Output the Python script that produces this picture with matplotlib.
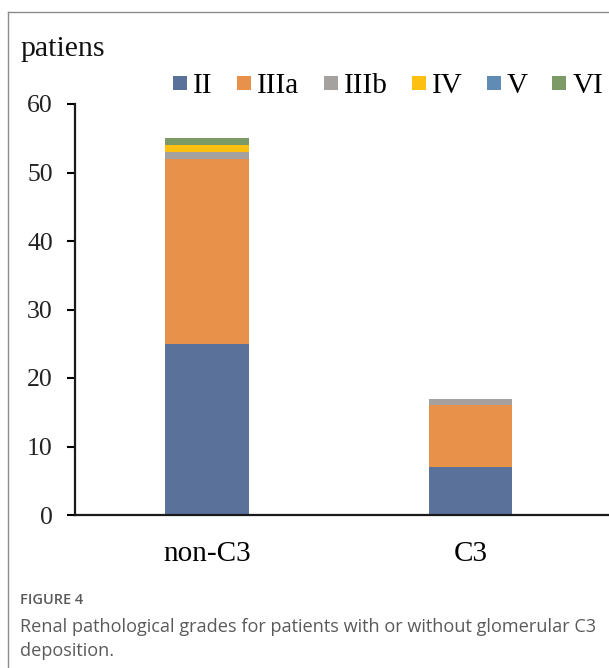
import matplotlib.pyplot as plt
from matplotlib.lines import Line2D

# data
groups = ["non-C3", "C3"]
grades = ["II", "IIIa", "IIIb", "IV", "V", "VI"]
counts = {
    "II": [25, 7],
    "IIIa": [27, 9],
    "IIIb": [1, 1],
    "IV": [1, 0],
    "V": [0, 0],
    "VI": [1, 0],
}
colors = ["#5a7199", "#e8914a", "#a5a19e", "#fdc010", "#5f8bb5", "#7c9a66"]
yticks = [0, 10, 20, 30, 40, 50, 60]

W, H = 609, 668
fig = plt.figure(figsize=(W / 100, H / 100), dpi=100)
serif = "Liberation Serif"

# axes placed in pixel terms of the reference
left, right, top, bottom = 75, 612, 104, 515
ax = fig.add_axes([left / W, 1 - bottom / H, (right - left) / W, (bottom - top) / H])

x = list(range(len(groups)))
base = [0] * len(groups)
handles = []
for g, c in zip(grades, colors):
    vals = counts[g]
    ax.bar(x, vals, width=0.315, bottom=base, color=c, label=g, linewidth=0)
    base = [b + v for b, v in zip(base, vals)]
    handles.append(Line2D([], [], marker="s", linestyle="none", markersize=10,
                          markerfacecolor=c, markeredgewidth=0, label=g))

ax.set_xlim(-0.5, 1.535)
ax.set_ylim(0, 60)
ax.set_yticks(yticks)
ax.set_xticks(x)
ax.set_xticklabels(groups, fontfamily=serif, fontsize=21)
ax.tick_params(axis="x", length=0, pad=19)
ax.tick_params(axis="y", direction="out", length=5.5, width=1.5, pad=10.5)
for lab in ax.get_yticklabels():
    lab.set_fontfamily(serif)
    lab.set_fontsize(18.5)
    lab.set_color("#222222")
for s in ["top", "right"]:
    ax.spines[s].set_visible(False)
for s in ["left", "bottom"]:
    ax.spines[s].set_linewidth(1.6)
    ax.spines[s].set_color("#1a1a1a")

fig.text(20 / W, 1 - 49 / H, "patiens", fontfamily=serif, fontsize=21.5,
         va="center", ha="left", color="#111111")

fig.legend(handles=handles, loc="center left", bbox_to_anchor=(173 / W, 1 - 86 / H),
           ncol=6, frameon=False, prop={"family": serif, "size": 21},
           handletextpad=0.2, columnspacing=0.82, handlelength=0.5,
           borderaxespad=0, borderpad=0)

# card border (top and left edges only visible)
fig.add_artist(Line2D([8 / W, 1], [1 - 12 / H, 1 - 12 / H], color="#8c8c8c", lw=1.0))
fig.add_artist(Line2D([8 / W, 8 / W], [0, 1 - 12 / H], color="#8c8c8c", lw=1.0))

# caption
fig.text(20 / W, 1 - 600 / H, "FIGURE 4", fontfamily="Open Sans", fontsize=10.5,
         fontweight="semibold", color="#5a5a5a", va="center")
fig.text(20 / W, 1 - 627 / H,
         "Renal pathological grades for patients with or without glomerular C3",
         fontfamily="Open Sans", fontsize=13.1, color="#5a5a5a", va="center")
fig.text(20 / W, 1 - 651 / H, "deposition.",
         fontfamily="Open Sans", fontsize=13.1, color="#5a5a5a", va="center")

fig.savefig("out.png", dpi=100)
